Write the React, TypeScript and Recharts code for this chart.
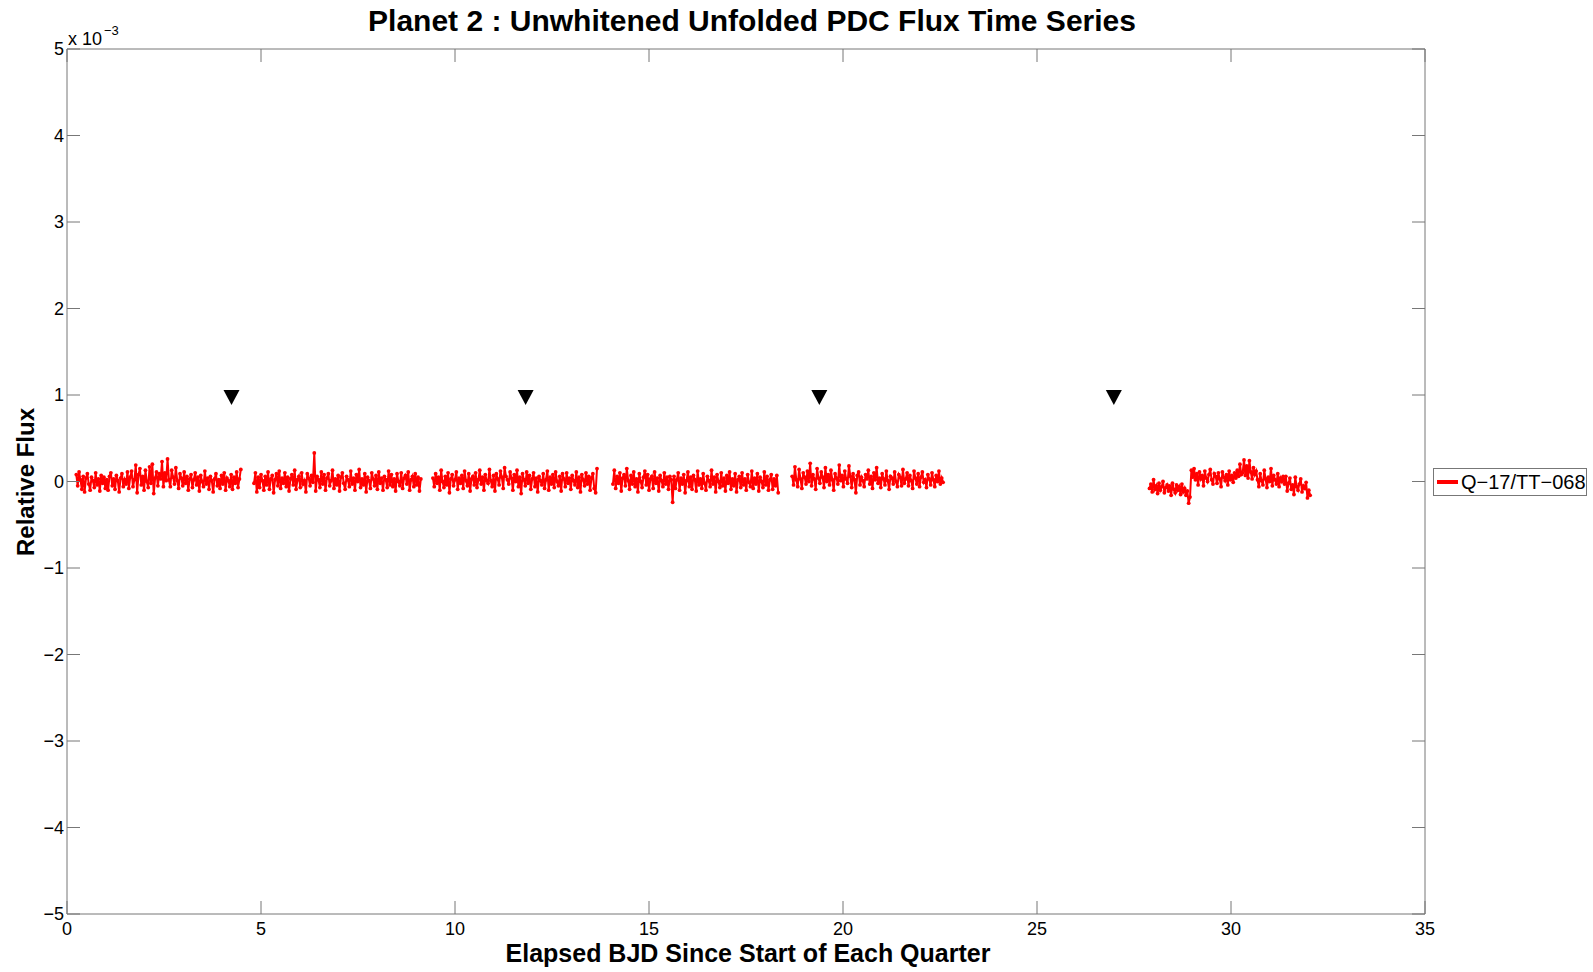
import React from 'react';
import { ComposedChart, Line, Scatter, XAxis, YAxis } from 'recharts';

// Relative flux values in units of 1e-4, per quarter segment
const seg1Span = [0.24, 4.48];
const seg1Flux = [
  0.8, -0.5, 1.1, 0.2, -0.9, 0.6, -1.2, 0.4, 0.9, -0.3, -1.0, 0.5, 0.1, -0.7, 1.0, -0.4, 0.3, -1.1, 0.7, -0.2,
  0.5, -0.8, 0.2, -1.0, 0.6, 1.0, -0.5, 0.3, -0.9, 0.7, 0.1, -1.2, 0.4, 0.9, -0.6, 0.2, -0.3, 1.1, -0.8, 0.5,
  1.2, -0.6, 0.2, 1.9, -1.3, 0.8, 1.5, -0.4, 0.6, -1.0, 1.3, 0.0, -0.7, 1.7, -0.2, 2.0, -1.4, 0.4, 1.1, -0.5,
  0.9, 0.3, 2.3, -0.6, 1.0, 0.1, 2.6, 0.2, -0.6, 1.3, 0.5, -0.3, 1.6, 0.1, -0.8, 0.9, 0.4, -0.5, 1.1, -0.2,
  0.6, -1.0, 0.3, 0.8, -0.7, 0.2, 1.0, -0.4, 0.5, -1.1, 0.7, 0.0, -0.6, 1.2, -0.3, 0.4, -0.9, 0.6, 0.1, -1.2,
  0.3, 0.9, -0.5, 0.2, -0.8, 0.7, -0.3, 1.0, -1.0, 0.4, 0.1, -0.6, 0.8, -0.9, 0.5, -0.2, 1.1, -0.7, 0.3, 1.4,
];
const seg2Span = [4.82, 9.12];
const seg2Flux = [
  -0.2, 1.0, -1.2, 0.5, -0.7, 0.8, 0.1, -1.0, 0.6, -0.4, 1.1, -0.9, 0.3, 0.7, -1.3, 0.2, 0.9, -0.5, 1.2, -0.8,
  0.4, -0.2, 1.0, -0.6, 0.5, -1.1, 0.3, 0.8, -0.4, 1.3, -0.9, 0.2, 0.6, -0.7, 1.0, -0.3, 0.1, -1.2, 0.9, 0.4,
  -0.5, 0.7, -0.1, 3.3, -1.1, 0.6, 0.2, -0.7, 1.1, -0.3, 0.8, -1.0, 0.4, 0.9, -0.5, 0.1, 1.3, -0.8, 0.3, -0.4,
  0.7, -1.1, 0.5, 1.0, -0.2, -0.9, 0.6, 0.2, -0.6, 1.2, -0.3, 0.4, -1.0, 0.8, 0.0, 1.4, -0.7, 0.3, -0.4, 0.9,
  -1.2, 0.5, 0.1, -0.8, 1.0, 0.3, -0.5, 0.7, -0.9, 1.1, -0.2, 0.4, -1.0, 0.6, 0.2, -0.7, 1.2, -0.4, 0.8, -0.6,
  0.3, -1.1, 0.9, 0.0, -0.5, 1.0, -0.8, 0.4, 0.7, -0.3, 1.1, -1.0, 0.2, 0.6, -0.6, 0.9, -0.4, 0.5, -1.1, 0.3,
];
const seg3Span = [9.43, 13.66];
const seg3Flux = [
  0.4, -0.6, 0.9, -0.2, 0.5, -1.0, 1.3, 0.0, -0.7, 0.6, -0.4, 1.0, -1.3, 0.3, 0.8, -0.5, 0.2, 1.1, -0.9, 0.4,
  -0.2, 0.7, -0.8, 1.2, 0.1, -0.5, 0.9, -1.1, 0.3, 0.6, -0.4, 1.0, -0.7, 0.2, 1.3, -0.3, 0.5, -1.0, 0.8, 0.1,
  -0.2, 1.4, 0.1, -0.6, 0.7, -1.1, 0.9, 0.3, -0.4, 1.2, 0.5, -0.8, 1.6, 0.6, 0.2, -0.3, 1.1, 0.4, -1.0, 0.8,
  0.0, 1.3, -0.6, 0.5, -1.4, 0.9, 0.2, -0.5, 1.1, -0.2, 0.7, -0.9, 0.3, 1.0, -0.6, 0.4, -1.2, 0.6, 0.1, -0.4,
  0.9, -0.8, 0.2, 1.2, -1.0, 0.5, -0.3, 0.8, -0.7, 1.1, 0.0, -0.5, 0.6, -1.1, 0.9, 0.3, -0.6, 1.0, -0.2, 0.4,
  -0.9, 0.7, 0.1, -0.4, 1.1, -0.7, 0.5, -1.2, 0.8, 0.2, -0.5, 1.0, -0.3, 0.6, -1.0, 0.4, 0.9, -0.8, -1.3, 1.5,
];
const seg4Span = [14.07, 18.33];
const seg4Flux = [
  -0.3, 1.3, -0.8, 0.6, -0.2, 1.0, -1.1, 0.4, 0.8, -0.5, 1.5, 0.1, -0.9, 0.7, -0.3, 1.1, -0.6, 0.3, -1.2, 0.9,
  0.0, -0.7, 0.5, 1.2, -0.4, 0.8, -1.0, 0.3, 0.6, -0.8, 1.1, -0.2, 0.4, -1.1, 0.7, 0.1, -0.6, 1.0, -0.3, 0.5,
  -0.9, 0.6, 0.2, -2.4, 0.6, -0.8, 0.2, 1.0, -1.0, 0.4, -0.3, 0.8, -1.3, 0.1, 1.1, -0.6, 0.5, -0.9, 0.7, 0.2,
  -1.1, 1.2, -0.4, 0.3, -0.8, 0.9, -0.2, -1.0, 0.6, 0.1, -0.6, 1.3, -0.3, 0.5, -1.2, 0.8, 0.0, -0.7, 1.0, -0.5,
  0.4, -1.1, 0.7, -0.2, 1.1, -0.9, 0.3, -0.5, 0.9, -1.2, 0.2, 0.6, -0.7, 1.0, -0.4, 0.3, -1.0, 0.8, -0.1, -0.6,
  1.2, -0.8, 0.4, -0.3, 0.9, -1.1, 0.5, 0.0, -0.7, 1.1, -0.4, 0.6, -1.0, 0.2, 0.8, -0.9, 0.3, -0.5, 0.7, -1.3,
];
const seg5Span = [18.69, 22.58];
const seg5Flux = [
  0.6, -0.4, 1.7, 0.2, -0.6, 1.4, 0.3, -0.8, 1.0, 0.5, -0.3, 1.2, 0.0, 2.1, -0.5, 0.8, 0.3, -0.9, 1.5, 0.4,
  -0.2, 1.1, 0.5, -0.7, 1.6, 0.0, 0.8, -0.4, 1.3, 0.2, -1.0, 0.9, 0.4, -0.3, 1.9, 0.1, 0.7, -0.6, 1.2, 0.3,
  -0.2, 1.8, 0.6, -0.7, 0.9, 0.2, -1.3, 0.7, 1.1, -0.4, 0.5, 0.1, -0.6, 0.8, 0.3, 1.3, -0.3, 0.6, -0.8, 1.0,
  0.2, 1.6, -0.2, 0.4, -0.7, 0.9, 0.3, -0.4, 1.2, 0.1, -0.9, 0.6, 0.4, -0.3, 1.1, 0.0, -0.6, 0.8, 0.5, -0.5,
  1.4, -0.2, 0.3, 1.0, -0.5, 0.7, 0.1, -0.8, 1.2, 0.4, -0.3, 0.9, -0.6, 0.5, 1.1, -0.1, 0.2, -0.7, 0.8, 0.3,
  -0.4, 1.0, 0.2, -0.6, 0.7, 0.0, 1.2, -0.3, 0.4, -0.1,
];
const seg6Span = [27.9, 32.04];
const seg6Flux = [
  -0.8, -0.3, -1.2, 0.2, -0.9, -0.5, -1.4, -0.2, -1.0, -0.6, 0.0, -1.3, -0.7, -0.4, -1.1, -0.5, -1.6, -0.2, -0.9, -1.3,
  -0.4, -1.0, -0.6, -1.5, -0.3, -1.2, -0.8, -1.6, -1.1, -2.5, -1.8, 1.3, 0.5, 1.5, 0.2, 0.9, -0.4, 1.1, 0.3, 0.7,
  -0.5, 1.2, 0.4, 0.0, 0.8, 1.4, 0.2, -0.3, 0.9, 0.6, -0.2, 1.0, 0.3, -0.6, 1.1, 0.5, 0.1, 0.8, -0.4, 1.2,
  0.2, 0.7, -0.1, 1.0, 0.4, 1.3, 0.6, 2.0, 0.8, 1.0, 2.5, 0.7, 1.8, 0.4, 2.4, 1.1, 0.3, 1.6, 0.8, 1.2,
  0.2, -0.6, 0.9, 0.1, -0.4, 1.3, 0.3, -0.7, 0.5, 0.0, 1.5, -0.5, 0.7, 0.2, -0.3, 0.9, -0.6, 0.4, 0.0, 0.6,
  -0.3, 0.6, -1.1, -0.2, 0.4, -0.9, -0.4, -1.5, 0.5, -0.6, -1.0, -0.3, 0.3, -1.2, -0.5, -0.8, -0.1, -1.9, -1.0, -1.6,
];

const transitTimes = [4.24, 11.82, 19.39, 26.98];
const transitLevel = 1e-3;

const xTicks = [0, 5, 10, 15, 20, 25, 30, 35];
const yTicks = [-0.005, -0.004, -0.003, -0.002, -0.001, 0, 0.001, 0.002, 0.003, 0.004, 0.005];

const titleText = 'Planet 2 : Unwhitened Unfolded PDC Flux Time Series';
const xLabelText = 'Elapsed BJD Since Start of Each Quarter';
const yLabelText = 'Relative Flux';
const legendText = 'Q\u221217/TT\u2212068';

const segments = [
  { span: seg1Span, flux: seg1Flux },
  { span: seg2Span, flux: seg2Flux },
  { span: seg3Span, flux: seg3Flux },
  { span: seg4Span, flux: seg4Flux },
  { span: seg5Span, flux: seg5Flux },
  { span: seg6Span, flux: seg6Flux },
];

const fluxData: { t: number; flux: number | null }[] = [];
segments.forEach((s, si) => {
  const [a, b] = s.span;
  const n = s.flux.length;
  s.flux.forEach((v, i) => {
    fluxData.push({ t: a + (i * (b - a)) / (n - 1), flux: v * 1e-4 });
  });
  if (si < segments.length - 1) {
    fluxData.push({ t: (b + segments[si + 1].span[0]) / 2, flux: null });
  }
});

const transitData = transitTimes.map((t) => ({ t, flux: transitLevel }));

const FONT = '"Liberation Sans", Arial, Helvetica, sans-serif';
const AXIS = '#777777';
const RED = '#ff0000';

const fmtY = (v: number) => {
  const n = Math.round(v * 1000);
  return n < 0 ? '\u2212' + Math.abs(n) : String(n);
};

const Triangle = (props: any) => {
  const { cx, cy } = props;
  if (cx == null || cy == null) return null;
  return <polygon points={`${cx - 8},${cy - 5} ${cx + 8},${cy - 5} ${cx},${cy + 10}`} fill="#000" />;
};

export default function App() {
  const tickStyle = { fill: '#000', fontSize: 18, fontFamily: FONT };
  return (
    <div style={{ position: 'absolute', left: 0, top: 0, width: 1593, height: 972, background: '#fff' }}>
      <ComposedChart width={1593} height={972} margin={{ top: 48, right: 167, bottom: 18, left: 7 }}>
        <XAxis
          xAxisId="main"
          dataKey="t"
          type="number"
          domain={[0, 35]}
          ticks={xTicks}
          orientation="bottom"
          height={40}
          stroke={AXIS}
          tickSize={-13}
          tickMargin={21}
          tick={tickStyle}
          allowDataOverflow
        />
        <XAxis
          xAxisId="top"
          dataKey="t"
          type="number"
          domain={[0, 35]}
          ticks={xTicks}
          orientation="top"
          height={1}
          stroke={AXIS}
          tickSize={-13}
          tickFormatter={() => ''}
          allowDataOverflow
        />
        <YAxis
          yAxisId="main"
          type="number"
          domain={[-0.005, 0.005]}
          ticks={yTicks}
          width={60}
          stroke={AXIS}
          tickSize={-13}
          tickMargin={16}
          tick={tickStyle}
          tickFormatter={fmtY}
          allowDataOverflow
        />
        <YAxis
          yAxisId="right"
          type="number"
          orientation="right"
          domain={[-0.005, 0.005]}
          ticks={yTicks}
          width={1}
          stroke={AXIS}
          tickSize={-13}
          tickFormatter={() => ''}
          allowDataOverflow
        />
        <Line
          xAxisId="top"
          yAxisId="right"
          data={transitData}
          dataKey="flux"
          stroke="none"
          strokeWidth={0}
          dot={false}
          activeDot={false}
          legendType="none"
          isAnimationActive={false}
        />
        <Line
          xAxisId="main"
          yAxisId="main"
          data={fluxData}
          dataKey="flux"
          type="linear"
          stroke={RED}
          strokeWidth={2}
          dot={{ r: 1.9, fill: RED, stroke: 'none' }}
          connectNulls={false}
          isAnimationActive={false}
        />
        <Scatter
          xAxisId="main"
          yAxisId="main"
          data={transitData}
          dataKey="flux"
          shape={<Triangle />}
          isAnimationActive={false}
        />
      </ComposedChart>
      <svg width={1593} height={972} style={{ position: 'absolute', left: 0, top: 0, pointerEvents: 'none' }}>
        <text x={752} y={31} textAnchor="middle" fontFamily={FONT} fontWeight="bold" fontSize={30} fill="#000">
          {titleText}
        </text>
        <text x={748} y={962} textAnchor="middle" fontFamily={FONT} fontWeight="bold" fontSize={25} fill="#000">
          {xLabelText}
        </text>
        <text
          x={34}
          y={482}
          textAnchor="middle"
          fontFamily={FONT}
          fontWeight="bold"
          fontSize={24}
          fill="#000"
          transform="rotate(-90, 34, 482)"
        >
          {yLabelText}
        </text>
        <text x={68} y={45} fontFamily={FONT} fontSize={18} fill="#000">
          x 10
        </text>
        <text x={104} y={35} fontFamily={FONT} fontSize={13} fill="#000">
          {'\u22123'}
        </text>
        <rect x={1433.5} y={468.5} width={153} height={27} fill="#fff" stroke={AXIS} strokeWidth={1} />
        <line x1={1437} y1={482} x2={1458} y2={482} stroke={RED} strokeWidth={4} />
        <text x={1461} y={489} fontFamily={FONT} fontSize={20} fill="#000">
          {legendText}
        </text>
      </svg>
    </div>
  );
}
